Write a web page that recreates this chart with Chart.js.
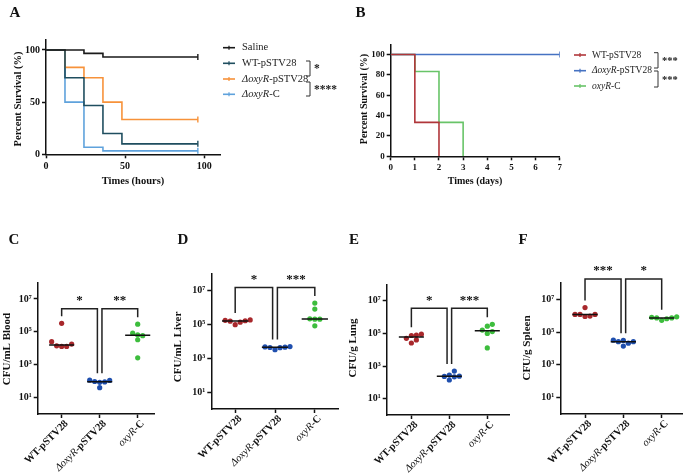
<!DOCTYPE html>
<html>
<head>
<meta charset="utf-8">
<script src="https://cdn.jsdelivr.net/npm/chart.js@4.4.0/dist/chart.umd.min.js"></script>
<style>
  html, body { margin: 0; padding: 0; background: #fff; }
  #wrap { position: relative; width: 688px; height: 475px; }
  #wrap canvas { position: absolute; left: 0; top: 0; }
</style>
</head>
<body>
<div id="wrap"></div>
<script>
// ---------- A: survival, hours ----------
const namesA = ['Saline', 'WT-pSTV28', 'ΔoxyR-pSTV28', 'ΔoxyR-C'];
const hoursSaline = [0, 24, 36, 96];
const survSaline = [100, 96.7, 93.3, 93.3];
const hoursWT = [0, 12, 24, 36, 48, 96];
const survWT = [100, 73.3, 46.7, 20, 10, 10];
const hoursDelta = [0, 12, 24, 36, 48, 96];
const survDelta = [100, 83.3, 73.3, 50, 33.3, 33.3];
const hoursComp = [0, 12, 24, 36, 96];
const survComp = [100, 50, 6.7, 3.3, 3.3];
const sigA = ['*', '****'];

// ---------- B: survival, days ----------
const namesB = ['WT-pSTV28', 'ΔoxyR-pSTV28', 'oxyR-C'];
const daysWT = [0, 1, 2];
const survWTb = [100, 33.3, 0];
const daysDelta = [0, 7];
const survDeltaB = [100, 100];
const daysComp = [0, 1, 2, 3];
const survCompB = [100, 83.3, 33.3, 0];
const sigB = ['***', '***'];

// ---------- C-F: CFU counts ----------
const groups = ['WT-pSTV28', 'ΔoxyR-pSTV28', 'oxyR-C'];
const bloodWT = [3.3e5, 2.5e4, 1.3e4, 1.8e4, 1.3e4, 1.4e4];
const bloodDelta = [85, 110, 40, 115, 90, 95];
const bloodComp = [2.9e5, 6.5e4, 8.3e4, 5.8e4, 3.3e4, 2.6e3];
const liverWT = [1.9e5, 1.0e5, 1.7e5, 1.4e5, 1.6e5, 1.8e5];
const liverDelta = [4.3e3, 5.0e3, 4.6e3, 4.4e3, 3.3e3, 4.8e3];
const liverComp = [1.9e6, 8.3e5, 2.1e5, 2.1e5, 2.2e5, 8.5e4];
const lungWT = [8e4, 2.6e4, 9e4, 5e4, 7.5e4, 4e4];
const lungDelta = [240, 140, 280, 490, 230, 220];
const lungComp = [2.8e5, 3.6e5, 1.6e5, 1.0e5, 1.3e5, 1.3e4];
const spleenWT = [3.1e6, 1.2e6, 9.5e5, 1.2e6, 1.2e6, 8.9e5];
const spleenDelta = [2.1e4, 3.1e4, 2.6e4, 2.6e4, 3.2e4, 1.4e4];
const spleenComp = [6.5e5, 8.0e5, 7.3e5, 7.3e5, 8.5e5, 5.2e5];
const sigBlood = ['*', '**'];
const sigLiver = ['*', '***'];
const sigLung = ['*', '***'];
const sigSpleen = ['***', '*'];
const logTicks = [10, 1e3, 1e5, 1e7];

const SERIF = '"Liberation Serif", "Times New Roman", serif';
const f = (size, weight, style) => `${style || 'normal'} ${weight || 'normal'} ${size}px ${SERIF}`;
const INK = '#111';

const wrap = document.getElementById('wrap');
function addCanvas() {
  const c = document.createElement('canvas');
  c.width = 688; c.height = 475;
  c.style.width = '688px'; c.style.height = '475px';
  wrap.appendChild(c);
  return c.getContext('2d');
}

// italic for the gene name, base font for the rest
function rich(label, base, ital) {
  return label.split(/(Δ?oxyR)/).filter(s => s).map(s => [s, /oxyR/.test(s) ? ital : base]);
}
function drawRich(ctx, segs, x, y, align) {
  let w = 0;
  segs.forEach(([t, fn]) => { ctx.font = fn; w += ctx.measureText(t).width; });
  let cx = align === 'right' ? x - w : align === 'center' ? x - w / 2 : x;
  ctx.textAlign = 'left';
  segs.forEach(([t, fn]) => { ctx.font = fn; ctx.fillText(t, cx, y); cx += ctx.measureText(t).width; });
}
function vText(ctx, text, x, y, font) {
  ctx.save();
  ctx.translate(x, y); ctx.rotate(-Math.PI / 2);
  ctx.font = font; ctx.textAlign = 'center'; ctx.textBaseline = 'middle';
  ctx.fillText(text, 0, 0);
  ctx.restore();
}

function axisOpts(extra, tickFont) {
  return Object.assign({
    grid: { drawOnChartArea: false, drawTicks: true, tickLength: 4, tickWidth: 1.5, tickColor: INK },
    border: { display: true, color: INK, width: 1.5 },
    ticks: { color: INK, font: tickFont, padding: 2, maxRotation: 0, autoSkip: false }
  }, extra);
}

function baseOptions(geo, xScale, yScale) {
  const yw = 30, xh = 20;
  xScale.afterFit = s => { s.height = xh; };
  yScale.afterFit = s => { s.width = yw; };
  return {
    responsive: false, animation: false, devicePixelRatio: 1, events: [],
    layout: { padding: { left: geo.L - yw, top: geo.T, right: 688 - geo.R, bottom: 475 - geo.B - xh } },
    plugins: { legend: { display: false }, tooltip: { enabled: false } },
    scales: { x: xScale, y: yScale }
  };
}

function survDataset(xs, ys, color) {
  const last = xs.length - 1;
  return {
    data: xs.map((x, i) => ({ x, y: ys[i] })),
    borderColor: color, borderWidth: 1.6, stepped: true, fill: false,
    pointStyle: 'line', rotation: 90, pointBorderColor: color, pointBorderWidth: 1.4,
    pointRadius: c => (c.dataIndex === last && ys[last] > 0 ? 3 : 0)
  };
}

function legendPlugin(cfg) {
  return {
    id: 'legendBox',
    afterDraw(chart) {
      const ctx = chart.ctx;
      ctx.save();
      ctx.fillStyle = '#222'; ctx.textBaseline = 'middle';
      cfg.names.forEach((n, i) => {
        const y = cfg.rows[i];
        ctx.strokeStyle = cfg.colors[i]; ctx.lineWidth = 1.6;
        ctx.beginPath(); ctx.moveTo(cfg.x0, y); ctx.lineTo(cfg.x1, y); ctx.stroke();
        ctx.lineWidth = 1.2;
        ctx.beginPath(); ctx.moveTo((cfg.x0 + cfg.x1) / 2, y - 2); ctx.lineTo((cfg.x0 + cfg.x1) / 2, y + 2); ctx.stroke();
        drawRich(ctx, rich(n, f(cfg.size), f(cfg.size, 'normal', 'italic')), cfg.tx, y, 'left');
      });
      ctx.strokeStyle = '#333'; ctx.lineWidth = 1;
      cfg.brackets.forEach(([y1, y2], k) => {
        ctx.beginPath();
        ctx.moveTo(cfg.bx - 4, y1); ctx.lineTo(cfg.bx, y1); ctx.lineTo(cfg.bx, y2); ctx.lineTo(cfg.bx - 4, y2);
        ctx.stroke();
        ctx.font = f(cfg.size + 1, 'bold'); ctx.textAlign = 'left'; ctx.fillStyle = '#222';
        ctx.fillText(cfg.sig[k], cfg.bx + 4, (y1 + y2) / 2 + 1);
      });
      ctx.fillStyle = INK;
      vText(ctx, 'Percent Survival (%)', cfg.ytx, cfg.yty, f(cfg.tsize, 'bold'));
      ctx.font = f(cfg.tsize, 'bold'); ctx.textAlign = 'center';
      ctx.fillText(cfg.xtitle, cfg.xtx, cfg.xty);
      ctx.font = f(15, 'bold'); ctx.textAlign = 'center';
      ctx.fillText(cfg.letter, cfg.lx, cfg.ly);
      ctx.restore();
    }
  };
}

// ---------- Panel A ----------
const colorsA = ['#1a1a1a', '#1f4e5f', '#f7923a', '#5fa2dc'];
{
  const geo = { L: 46, R: 220, T: 39.5, B: 154.3 };
  const xS = axisOpts({ type: 'linear', min: 0, max: 110, afterBuildTicks: s => { s.ticks = [0, 50, 100].map(value => ({ value })); } }, { family: SERIF, size: 10, weight: 'bold' });
  const yS = axisOpts({ type: 'linear', min: 0, max: 110, afterBuildTicks: s => { s.ticks = [0, 50, 100].map(value => ({ value })); } }, { family: SERIF, size: 10, weight: 'bold' });
  new Chart(addCanvas(), {
    type: 'line',
    data: { datasets: [
      survDataset(hoursSaline, survSaline, colorsA[0]),
      survDataset(hoursWT, survWT, colorsA[1]),
      survDataset(hoursDelta, survDelta, colorsA[2]),
      survDataset(hoursComp, survComp, colorsA[3])
    ] },
    options: baseOptions(geo, xS, yS),
    plugins: [legendPlugin({
      names: namesA, colors: colorsA, rows: [47.7, 63.3, 79, 94.3], x0: 223, x1: 235, tx: 242, size: 10.5,
      brackets: [[61, 76], [82, 96]], bx: 310, sig: sigA,
      ytx: 18, yty: 99, xtitle: 'Times (hours)', xtx: 133, xty: 181.5, tsize: 10.5,
      letter: 'A', lx: 15, ly: 13
    })]
  });
}

// ---------- Panel B ----------
const colorsB = ['#b0363a', '#4672c2', '#68c468'];
{
  const geo = { L: 390.7, R: 559.7, T: 44.3, B: 156.3 };
  const xS = axisOpts({ type: 'linear', min: 0, max: 7, afterBuildTicks: s => { s.ticks = [0, 1, 2, 3, 4, 5, 6, 7].map(value => ({ value })); } }, { family: SERIF, size: 9, weight: 'bold' });
  const yS = axisOpts({ type: 'linear', min: 0, max: 110, afterBuildTicks: s => { s.ticks = [0, 20, 40, 60, 80, 100].map(value => ({ value })); } }, { family: SERIF, size: 9, weight: 'bold' });
  new Chart(addCanvas(), {
    type: 'line',
    data: { datasets: [
      survDataset(daysWT, survWTb, colorsB[0]),
      survDataset(daysDelta, survDeltaB, colorsB[1]),
      survDataset(daysComp, survCompB, colorsB[2])
    ] },
    options: baseOptions(geo, xS, yS),
    plugins: [legendPlugin({
      names: namesB, colors: colorsB, rows: [55, 70.7, 86], x0: 574, x1: 586, tx: 592, size: 9.5,
      brackets: [[52.7, 68], [71, 87]], bx: 658, sig: sigB,
      ytx: 364.7, yty: 99, xtitle: 'Times (days)', xtx: 475, xty: 181.5, tsize: 10,
      letter: 'B', lx: 360.5, ly: 13
    })]
  });
}

// ---------- Panels C-F ----------
const dotColors = ['#a8282c', '#1f4fae', '#3dbd3d'];
const sup = { 1: '¹', 3: '³', 5: '⁵', 7: '⁷' };

function median(a) {
  const s = [...a].sort((p, q) => p - q), m = s.length / 2;
  return s.length % 2 ? s[Math.floor(m)] : Math.sqrt(s[m - 1] * s[m]);
}

// simple beeswarm so that dots do not overlap
function swarm(vals, g, pxDec, pxUnit) {
  const d = 5;
  const order = vals.map((v, i) => i).sort((a, b) => vals[a] - vals[b]);
  const placed = [], out = [];
  order.forEach(i => {
    const y = Math.log10(vals[i]) * pxDec;
    for (let k = 0; k < 30; k++) {
      const off = (k % 2 ? 1 : -1) * Math.ceil(k / 2) * d;
      if (placed.every(p => Math.hypot(p.x - off, p.y - y) >= d * 0.95)) {
        placed.push({ x: off, y });
        out.push({ x: g + off / pxUnit, y: vals[i] });
        break;
      }
    }
  });
  return out;
}

function dotPanel(cfg) {
  const geo = cfg.geo;
  const pxDec = (geo.B - geo.T) / 8;
  const pxUnit = (geo.R - geo.L) / (cfg.xmax - cfg.xmin);
  const datasets = [];
  cfg.vals.forEach((v, g) => {
    const m = median(v);
    datasets.push({ type: 'line', data: [{ x: g - 0.33, y: m }, { x: g + 0.33, y: m }], borderColor: INK, borderWidth: 1.5, pointRadius: 0, order: 0 });
  });
  cfg.vals.forEach((v, g) => {
    datasets.push({ type: 'scatter', data: swarm(v, g, pxDec, pxUnit), backgroundColor: dotColors[g], borderWidth: 0, pointRadius: 2.6, order: 1 });
  });
  const xS = axisOpts({ type: 'linear', min: cfg.xmin, max: cfg.xmax, afterBuildTicks: s => { s.ticks = [0, 1, 2].map(value => ({ value })); } }, { family: SERIF, size: 10, weight: 'bold' });
  xS.ticks.callback = () => '';
  const yS = axisOpts({ type: 'logarithmic', min: 1, max: 1e8, afterBuildTicks: s => { s.ticks = logTicks.map(value => ({ value })); } }, { family: SERIF, size: 10, weight: 'bold' });
  yS.ticks.callback = v => '10' + sup[Math.round(Math.log10(v))];
  new Chart(addCanvas(), {
    type: 'scatter',
    data: { datasets },
    options: baseOptions(geo, xS, yS),
    plugins: [{
      id: 'annot',
      afterDraw(chart) {
        const ctx = chart.ctx, xs = chart.scales.x, ys = chart.scales.y;
        ctx.save();
        ctx.strokeStyle = '#222'; ctx.lineWidth = 1.5; ctx.fillStyle = INK;
        const top = ys.getPixelForValue(Math.pow(10, cfg.level));
        const legEnd = g => ys.getPixelForValue(Math.max(...cfg.vals[g])) - 7;
        [[0, 0.94, 0, 1], [1.06, 2, 1, 2]].forEach(([xa, xb, ga, gb], k) => {
          const x1 = xs.getPixelForValue(xa), x2 = xs.getPixelForValue(xb);
          ctx.beginPath();
          ctx.moveTo(x1, legEnd(ga)); ctx.lineTo(x1, top); ctx.lineTo(x2, top); ctx.lineTo(x2, legEnd(gb));
          ctx.stroke();
          ctx.font = f(13, 'bold'); ctx.textAlign = 'center'; ctx.textBaseline = 'middle';
          ctx.fillText(cfg.sig[k], (x1 + x2) / 2, top - 8);
        });
        // rotated category labels
        groups.forEach((gname, i) => {
          const x = xs.getPixelForValue(i);
          ctx.save();
          ctx.translate(x + 5, chart.chartArea.bottom + 8);
          ctx.rotate(-Math.PI / 4);
          ctx.textBaseline = 'middle';
          drawRich(ctx, rich(gname, f(10.5, 'bold'), f(10.5, 'normal', 'italic')), 0, 0, 'right');
          ctx.restore();
        });
        vText(ctx, cfg.title, cfg.tx, cfg.ty, f(11, 'bold'));
        ctx.font = f(15, 'bold'); ctx.textAlign = 'center'; ctx.textBaseline = 'middle';
        ctx.fillText(cfg.letter, cfg.lx, 240);
        ctx.restore();
      }
    }]
  });
}

dotPanel({ letter: 'C', lx: 14, title: 'CFU/mL Blood', tx: 7, ty: 349, vals: [bloodWT, bloodDelta, bloodComp], sig: sigBlood, level: 6.4,
  geo: { L: 37.7, R: 155, T: 282.5, B: 414 }, xmin: -0.63, xmax: 2.455 });
dotPanel({ letter: 'D', lx: 183, title: 'CFU/mL Liver', tx: 178, ty: 347, vals: [liverWT, liverDelta, liverComp], sig: sigLiver, level: 7.2,
  geo: { L: 211.3, R: 338.7, T: 274, B: 409 }, xmin: -0.6, xmax: 2.6 });
dotPanel({ letter: 'E', lx: 354, title: 'CFU/g Lung', tx: 353, ty: 348, vals: [lungWT, lungDelta, lungComp], sig: sigLung, level: 6.55,
  geo: { L: 386.7, R: 509.7, T: 284.5, B: 415 }, xmin: -0.65, xmax: 2.59 });
dotPanel({ letter: 'F', lx: 523, title: 'CFU/g Spleen', tx: 527, ty: 348, vals: [spleenWT, spleenDelta, spleenComp], sig: sigSpleen, level: 8.24,
  geo: { L: 560.3, R: 682, T: 282.9, B: 414 }, xmin: -0.645, xmax: 2.53 });
</script>
</body>
</html>
